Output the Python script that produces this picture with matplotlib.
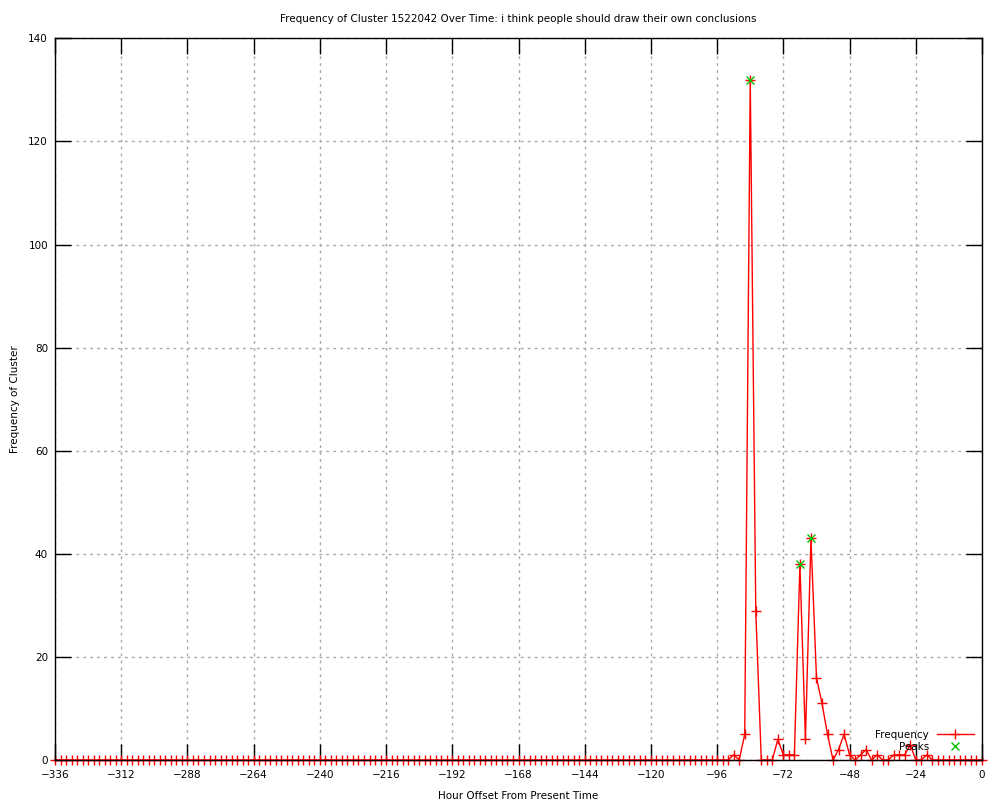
import matplotlib
matplotlib.use("Agg")
import matplotlib.pyplot as plt
import numpy as np

# hour offsets, every 2 hours from -336 to 0
hours = np.arange(-336, 1, 2)

# non-zero frequencies (everything else is 0)
nonzero = {
    -90: 1, -86: 5, -84: 132, -82: 29,
    -74: 4, -72: 1, -70: 1, -68: 1, -66: 38, -64: 4, -62: 43,
    -60: 16, -58: 11, -56: 5, -52: 2, -50: 5, -48: 1,
    -44: 1, -42: 2, -38: 1, -32: 1, -30: 1, -28: 1, -26: 3, -20: 1,
}
freq = [nonzero.get(int(h), 0) for h in hours]

peak_hours = [-84, -66, -62]
peak_freq = [132, 38, 43]

x_ticks = np.arange(-336, 1, 24)
y_ticks = np.arange(0, 141, 20)

plt.rcParams['font.family'] = ['DejaVu Sans']
plt.rcParams['font.size'] = 7.5

fig = plt.figure(figsize=(10, 8), dpi=100)
ax = fig.add_axes([0.055, 0.05, 0.927, 0.902])

ax.plot(hours, freq, color='red', lw=1, marker='+', ms=7, mew=1,
        label='Frequency', clip_on=False, zorder=3)
ax.plot(peak_hours, peak_freq, ls='none', color='#00c000', marker='x',
        ms=6, mew=1, label='Peaks', zorder=4)

ax.set_xlim(-336, 0)
ax.set_ylim(0, 140)
ax.set_xticks(x_ticks)
ax.set_yticks(y_ticks)
ax.set_xticklabels([str(t).replace('-', '\u2212') for t in x_ticks])
ax.tick_params(direction='in', length=11.5, width=1, top=True, right=True,
               labelsize=7.5)
ax.tick_params(axis='x', pad=7)
ax.tick_params(axis='y', pad=5)
ax.grid(True, color='#a8a8a8', ls=(0, (2, 3)), lw=1)
for s in ax.spines.values():
    s.set_linewidth(1)
    s.set_zorder(5)

ax.set_title('Frequency of Cluster 1522042 Over Time: i think people should draw their own conclusions',
             fontsize=7.5, pad=12)
ax.set_xlabel('Hour Offset From Present Time', labelpad=8)
ax.set_ylabel('Frequency of Cluster', labelpad=6)

ax.legend(loc='lower right', bbox_to_anchor=(1.0, 0.0), frameon=False,
          markerfirst=False, fontsize=7.5, handlelength=3.5,
          labelspacing=0.2, borderpad=0.3)

fig.savefig('out.png', dpi=100)
